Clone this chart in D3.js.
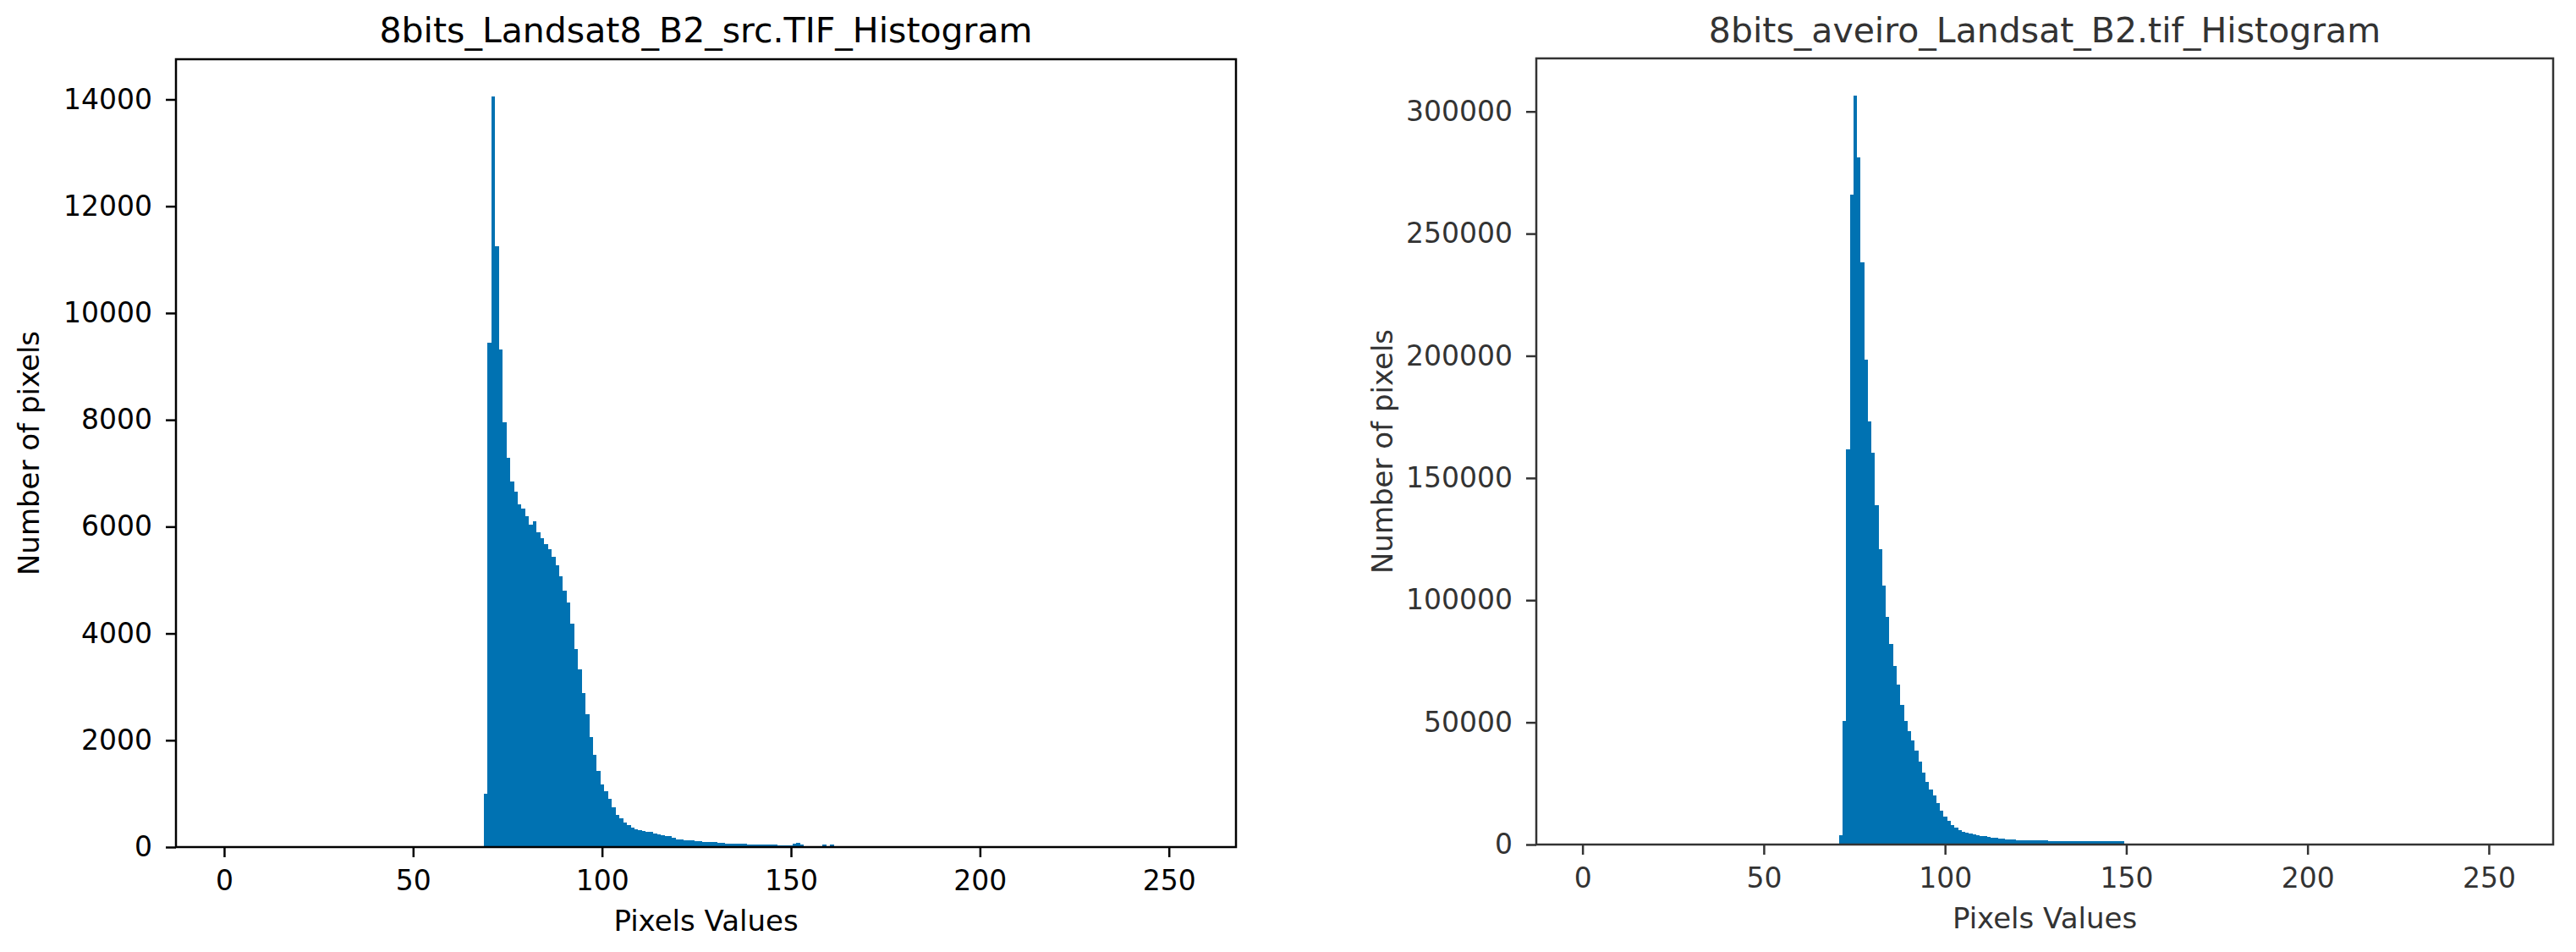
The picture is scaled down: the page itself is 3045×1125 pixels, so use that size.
<!DOCTYPE html>
<html>
<head>
<meta charset="utf-8">
<style>
  body { margin: 0; background: #fff; }
  svg { display: block; font-family: "DejaVu Sans", sans-serif; }
</style>
</head>
<body>
<svg width="3045" height="1125"></svg>
<script src="https://d3js.org/d3.v7.min.js"></script>
<script>

// pixel-value histograms, 256 bins over 0..255, only non-empty bins listed
var srcTitle = "8bits_Landsat8_B2_src.TIF_Histogram";
var srcStart = 69;
var srcCounts = [
  1000, 9450, 14050, 11250, 9320, 7960, 7290, 6840, 6660, 6420,   // 69-78
  6340, 6190, 6030, 6100, 5900, 5780, 5670, 5570, 5430, 5270,     // 79-88
  5070, 4800, 4580, 4180, 3710, 3330, 2890, 2480, 2060, 1720,     // 89-98
  1430, 1170, 1040, 910, 750, 595, 540, 465, 410, 360,            // 99-108
  332, 318, 305, 292, 280, 255, 235, 222, 210, 200,               // 109-118
  175, 150, 140, 133, 127, 121, 115, 108, 102, 97,                // 119-128
  93, 88, 82, 76, 70, 66, 63, 61, 59, 57,                         // 129-138
  55, 53, 51, 49, 47, 45, 43, 41, 39, 37,                         // 139-148
  35, 32, 65, 72, 40, 12, 8, 6, 5, 5,                             // 149-158
  48, 12, 44                                                      // 159-161
];

var aveiroTitle = "8bits_aveiro_Landsat_B2.tif_Histogram";
var aveiroStart = 71;
var aveiroCounts = [
  3900, 50500, 161600, 265800, 306400, 281100, 238200, 198500, 173100, 160500, // 71-80
  139000, 121000, 106000, 93000, 82000, 73000, 65500, 57000, 50500, 46500,     // 81-90
  42500, 38500, 34000, 29500, 25500, 22500, 20000, 17000, 14000, 11600,        // 91-100
  9800, 8100, 6900, 5900, 5300, 4800, 4400, 4100, 3800, 3500,                  // 101-110
  3300, 3100, 2900, 2700, 2550, 2400, 2250, 2100, 2000, 1900,                  // 111-120
  1800, 1750, 1700, 1650, 1600, 1590, 1570, 1560, 1540, 1530,                  // 121-130
  1510, 1500, 1480, 1470, 1450, 1440, 1420, 1410, 1390, 1380,                  // 131-140
  1360, 1350, 1340, 1330, 1320, 1310, 1300, 1290, 1280                         // 141-149
];

var xTicks = [0, 50, 100, 150, 200, 250];
var srcYTicks = [0, 2000, 4000, 6000, 8000, 10000, 12000, 14000];
var aveiroYTicks = [0, 50000, 100000, 150000, 200000, 250000, 300000];

var xLabel = "Pixels Values",
  yLabel = "Number of pixels";

var svg = d3.select("svg");
var barColor = "#0072b2";
var binWidth = 255 / 256;

var panels = [
  {title: srcTitle, start: srcStart, counts: srcCounts, yTicks: srcYTicks,
   left: 208, right: 1461, top: 70, bottom: 1001, ink: "#000", ylabX: 46},
  {title: aveiroTitle, start: aveiroStart, counts: aveiroCounts, yTicks: aveiroYTicks,
   left: 1816, right: 3018, top: 69, bottom: 998, ink: "#333", ylabX: 1646}
];

panels.forEach(function(p) {
  var bins = p.counts.map(function(c, i) { return {bin: p.start + i, count: c}; });

  var x = d3.scaleLinear().domain([-12.75, 267.75]).range([p.left, p.right]);
  var y = d3.scaleLinear()
    .domain([0, d3.max(bins, function(d) { return d.count; }) * 1.05])
    .range([p.bottom, p.top]);

  var g = svg.append("g");

  // bars snap to whole pixels so neighbours meet without seams
  g.selectAll("rect.bar")
      .data(bins)
    .enter().append("rect")
      .attr("class", "bar")
      .attr("x", function(d) { return Math.round(x(d.bin * binWidth)); })
      .attr("width", function(d) {
        return Math.round(x((d.bin + 1) * binWidth)) - Math.round(x(d.bin * binWidth));
      })
      .attr("y", function(d) { return y(d.count); })
      .attr("height", function(d) { return y(0) - y(d.count); })
      .attr("fill", barColor)
      .attr("shape-rendering", "crispEdges");

  var xAxis = g.append("g")
      .attr("transform", "translate(0," + p.bottom + ")")
      .call(d3.axisBottom(x).tickValues(xTicks).tickSize(12).tickPadding(16).tickSizeOuter(0));

  var yAxis = g.append("g")
      .attr("transform", "translate(" + p.left + ",0)")
      .call(d3.axisLeft(y).tickValues(p.yTicks).tickFormat(d3.format("d"))
        .tickSize(12).tickPadding(16).tickSizeOuter(0));

  [xAxis, yAxis].forEach(function(a) {
    a.select(".domain").remove();
    a.selectAll("line").attr("stroke", p.ink).attr("stroke-width", 2.5);
    a.selectAll("text").attr("fill", p.ink).style("font-size", "33px")
      .style("font-family", "DejaVu Sans");
  });

  // axes frame
  g.append("rect")
      .attr("x", p.left)
      .attr("y", p.top)
      .attr("width", p.right - p.left)
      .attr("height", p.bottom - p.top)
      .attr("fill", "none")
      .attr("stroke", p.ink)
      .attr("stroke-width", 2.5);

  g.append("text")
      .attr("x", (p.left + p.right) / 2)
      .attr("y", 50)
      .attr("text-anchor", "middle")
      .attr("fill", p.ink)
      .style("font-size", "41px")
      .text(p.title);

  g.append("text")
      .attr("x", (p.left + p.right) / 2)
      .attr("y", p.bottom + 99)
      .attr("text-anchor", "middle")
      .attr("fill", p.ink)
      .style("font-size", "34px")
      .text(xLabel);

  g.append("text")
      .attr("transform", "translate(" + p.ylabX + "," + (p.top + p.bottom) / 2 + ") rotate(-90)")
      .attr("text-anchor", "middle")
      .attr("fill", p.ink)
      .style("font-size", "34px")
      .text(yLabel);
});

</script>
</body>
</html>
